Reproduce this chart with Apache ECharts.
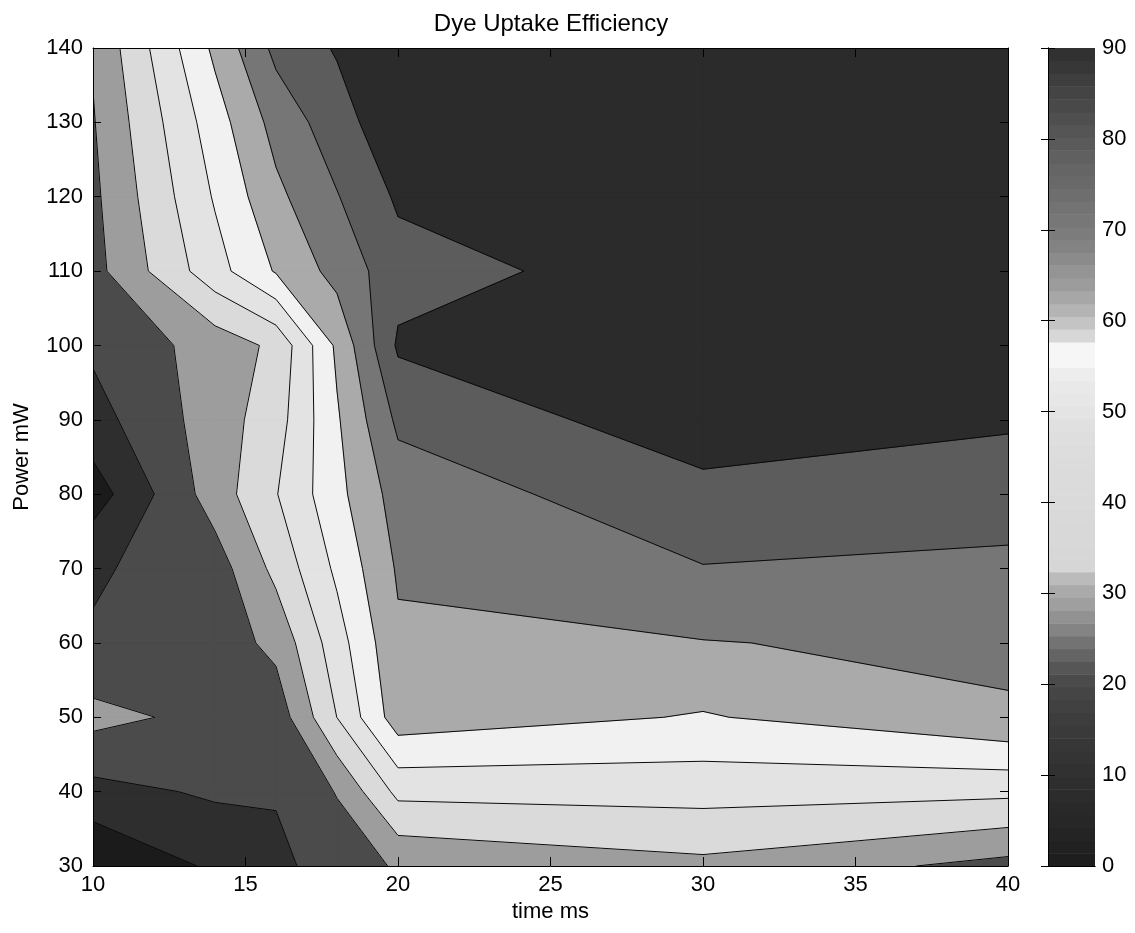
<!DOCTYPE html>
<html>
<head>
<meta charset="utf-8">
<script src="https://cdn.jsdelivr.net/npm/echarts/dist/echarts.min.js"></script>
<style>
html,body{margin:0;padding:0;background:#ffffff;}
#chart{width:1135px;height:933px;}
</style>
</head>
<body>
<div id="chart"></div>
<script>
// ---- data ----
const timeMs = [10, 14, 16, 18, 20, 30, 40];
const powerMw = [30, 40, 50, 60, 70, 80, 90, 100, 110, 120, 130, 140];
// efficiency at each power (30..140) for one time value
const eff10 = [0.0, 13.7, 27.1, 17.2, 15.4, 4.1, 13.2, 17.8, 21.8, 22.8, 24.0, 25.3];
const eff14 = [9.6, 17.5, 22.1, 20.0, 20.5, 28.5, 28.5, 28.0, 45.9, 49.9, 53.5, 59.0];
const eff16 = [14.5, 17.0, 19.6, 26.8, 35.0, 40.5, 37.3, 34.5, 58.0, 63.5, 68.4, 75.8];
const eff18 = [19.9, 25.0, 41.0, 45.5, 50.7, 54.8, 56.3, 58.8, 68.3, 73.2, 78.2, 82.6];
const eff20 = [25.5, 43.1, 61.8, 64.1, 66.4, 69.1, 75.3, 83.0, 78.6, 83.0, 88.0, 89.4];
const eff30 = [30.7, 43.9, 56.6, 65.1, 73.3, 79.3, 86.8, 87.3, 86.4, 88.2, 89.1, 90.0];
const eff40 = [21.9, 42.8, 64.4, 67.3, 71.4, 78.5, 82.6, 84.5, 86.4, 88.2, 89.1, 90.0];
const contourLevels = [8.18, 16.36, 24.55, 32.73, 40.91, 49.09, 57.27, 65.45, 73.64, 81.82];
const colorbarTicks = [0, 10, 20, 30, 40, 50, 60, 70, 80, 90];

// ---- styles ----
const bandColors = ['#1b1b1b', '#2e2e2e', '#4b4b4b', '#9d9d9d', '#dadada', '#e3e3e3',
                    '#f1f1f1', '#aaaaaa', '#767676', '#5c5c5c', '#2b2b2b'];
const colormapStops = [[0,28],[5,39],[10,48],[15,58],[20,72],[22,88],[24,108],[26,132],[28,152],
  [30,168],[31,178],[32,192],[33,214],[40,218],[48,222],[50,228],[54,236],[55,246],[57,246],
  [57.6,224],[59,208],[60,192],[62,172],[64,156],[66,144],[68,132],[70,122],[72,116],[75,106],
  [78,96],[80,88],[83,76],[86,64],[88,54],[90,46]];
const FONT = 'Liberation Sans, Arial, Helvetica, sans-serif';

const efficiency = [eff10, eff14, eff16, eff18, eff20, eff30, eff40];

function grayHex(g) {
  const h = Math.max(0, Math.min(255, Math.round(g))).toString(16).padStart(2, '0');
  return '#' + h + h + h;
}
function colormapAt(v) {
  for (let s = 0; s < colormapStops.length - 1; s++) {
    const a = colormapStops[s], b = colormapStops[s + 1];
    if (v >= a[0] && v <= b[0]) {
      const t = (v - a[0]) / (b[0] - a[0]);
      return grayHex(a[1] + t * (b[1] - a[1]));
    }
  }
  return grayHex(colormapStops[colormapStops.length - 1][1]);
}

// marching squares: polygon of the part of cell (i,j) where value >= L
function cellPolygon(i, j, L) {
  const xs = [timeMs[i], timeMs[i + 1], timeMs[i + 1], timeMs[i]];
  const ys = [powerMw[j], powerMw[j], powerMw[j + 1], powerMw[j + 1]];
  const vs = [efficiency[i][j], efficiency[i + 1][j], efficiency[i + 1][j + 1], efficiency[i][j + 1]];
  const pts = [];
  for (let a = 0; a < 4; a++) {
    const b = (a + 1) % 4;
    const inA = vs[a] >= L, inB = vs[b] >= L;
    if (inA) pts.push({x: xs[a], y: ys[a], c: false});
    if (inA !== inB) {
      const t = (L - vs[a]) / (vs[b] - vs[a]);
      pts.push({x: xs[a] + t * (xs[b] - xs[a]), y: ys[a] + t * (ys[b] - ys[a]), c: true});
    }
  }
  return pts;
}

function renderContours(params, api) {
  const children = [];
  const tl = api.coord([timeMs[0], powerMw[powerMw.length - 1]]);
  const br = api.coord([timeMs[timeMs.length - 1], powerMw[0]]);
  children.push({type: 'rect', shape: {x: tl[0], y: tl[1], width: br[0] - tl[0], height: br[1] - tl[1]},
                 style: {fill: bandColors[0]}});
  const segs = [];
  contourLevels.forEach(function (L, k) {
    for (let i = 0; i < timeMs.length - 1; i++) {
      for (let j = 0; j < powerMw.length - 1; j++) {
        const pts = cellPolygon(i, j, L);
        if (pts.length < 3) continue;
        const px = pts.map(p => api.coord([p.x, p.y]));
        children.push({type: 'polygon', shape: {points: px},
          style: {fill: bandColors[k + 1], stroke: bandColors[k + 1], lineWidth: 1}});
        const n = pts.length;
        for (let m = 0; m < n; m++) {
          const q = (m + 1) % n;
          if (pts[m].c && pts[q].c) segs.push([px[m], px[q]]);
        }
      }
    }
  });
  segs.forEach(function (s) {
    children.push({type: 'line', shape: {x1: s[0][0], y1: s[0][1], x2: s[1][0], y2: s[1][1]},
      style: {stroke: '#0a0a0a', lineWidth: 1}});
  });
  return {type: 'group', children: children};
}

const CB_STEPS = 64;
const cbMax = colorbarTicks[colorbarTicks.length - 1];
function renderColorbar(params, api) {
  const idx = api.value(0);
  const lo = idx * cbMax / CB_STEPS, hi = (idx + 1) * cbMax / CB_STEPS;
  const p1 = api.coord([0, hi]);
  const p2 = api.coord([1, lo]);
  return {type: 'rect', shape: {x: p1[0], y: p1[1], width: p2[0] - p1[0], height: p2[1] - p1[1] + 0.5},
          style: {fill: colormapAt((lo + hi) / 2)}};
}

const chart = echarts.init(document.getElementById('chart'), null, {renderer: 'canvas'});
const tickLabel = {color: '#000', fontSize: 22, fontFamily: FONT};
const option = {
  animation: false,
  backgroundColor: '#ffffff',
  title: {
    text: 'Dye Uptake Efficiency', left: 546, top: 7, textAlign: 'center',
    textStyle: {color: '#000', fontSize: 24, fontWeight: 'normal', fontFamily: FONT}
  },
  grid: [
    {left: 93, right: 127, top: 48, bottom: 67},
    {left: 1048, width: 47, top: 48, bottom: 67}
  ],
  xAxis: [
    {type: 'value', gridIndex: 0, min: 10, max: 40, interval: 5, position: 'bottom', z: 10,
     name: 'time ms', nameLocation: 'middle', nameGap: 33,
     nameTextStyle: {color: '#000', fontSize: 22, fontFamily: FONT},
     axisLine: {show: true, lineStyle: {color: '#000', width: 1}},
     axisTick: {inside: true, length: 9, lineStyle: {color: '#000'}},
     axisLabel: Object.assign({margin: 8}, tickLabel),
     splitLine: {show: false}},
    {type: 'value', gridIndex: 0, min: 10, max: 40, interval: 5, position: 'top', z: 10,
     axisLine: {show: true, lineStyle: {color: '#000', width: 1}},
     axisTick: {inside: true, length: 9, lineStyle: {color: '#000'}},
     axisLabel: {show: false}, splitLine: {show: false}},
    {type: 'value', gridIndex: 1, min: 0, max: 1, position: 'bottom', z: 10,
     axisLine: {show: true, lineStyle: {color: '#000', width: 1}},
     axisTick: {show: false}, axisLabel: {show: false}, splitLine: {show: false}},
    {type: 'value', gridIndex: 1, min: 0, max: 1, position: 'top', z: 10,
     axisLine: {show: true, lineStyle: {color: '#000', width: 1}},
     axisTick: {show: false}, axisLabel: {show: false}, splitLine: {show: false}}
  ],
  yAxis: [
    {type: 'value', gridIndex: 0, min: 30, max: 140, interval: 10, position: 'left', z: 10,
     name: 'Power mW', nameLocation: 'middle', nameGap: 60, nameRotate: 90,
     nameTextStyle: {color: '#000', fontSize: 22, fontFamily: FONT},
     axisLine: {show: true, lineStyle: {color: '#000', width: 1}},
     axisTick: {inside: true, length: 8, lineStyle: {color: '#000'}},
     axisLabel: Object.assign({margin: 10}, tickLabel),
     splitLine: {show: false}},
    {type: 'value', gridIndex: 0, min: 30, max: 140, interval: 10, position: 'right', z: 10,
     axisLine: {show: true, lineStyle: {color: '#000', width: 1}},
     axisTick: {inside: true, length: 8, lineStyle: {color: '#000'}},
     axisLabel: {show: false}, splitLine: {show: false}},
    {type: 'value', gridIndex: 1, min: 0, max: cbMax, interval: 10, position: 'right', z: 10,
     axisLine: {show: true, lineStyle: {color: '#000', width: 1}},
     axisTick: {inside: true, length: 7, lineStyle: {color: '#000'}},
     axisLabel: Object.assign({margin: 7}, tickLabel),
     splitLine: {show: false}},
    {type: 'value', gridIndex: 1, min: 0, max: cbMax, interval: 10, position: 'left', z: 10,
     axisLine: {show: true, lineStyle: {color: '#000', width: 1}},
     axisTick: {inside: true, length: 7, lineStyle: {color: '#000'}},
     axisLabel: {show: false}, splitLine: {show: false}}
  ],
  series: [
    {type: 'custom', name: 'Dye Uptake Efficiency', xAxisIndex: 0, yAxisIndex: 0, clip: true,
     renderItem: renderContours, data: [[timeMs[0], powerMw[0]]], silent: true},
    {type: 'custom', name: 'colorbar', xAxisIndex: 2, yAxisIndex: 2, clip: true,
     renderItem: renderColorbar, silent: true,
     data: Array.from({length: CB_STEPS}, (_, i) => [i])}
  ]
};
chart.setOption(option);
</script>
</body>
</html>
